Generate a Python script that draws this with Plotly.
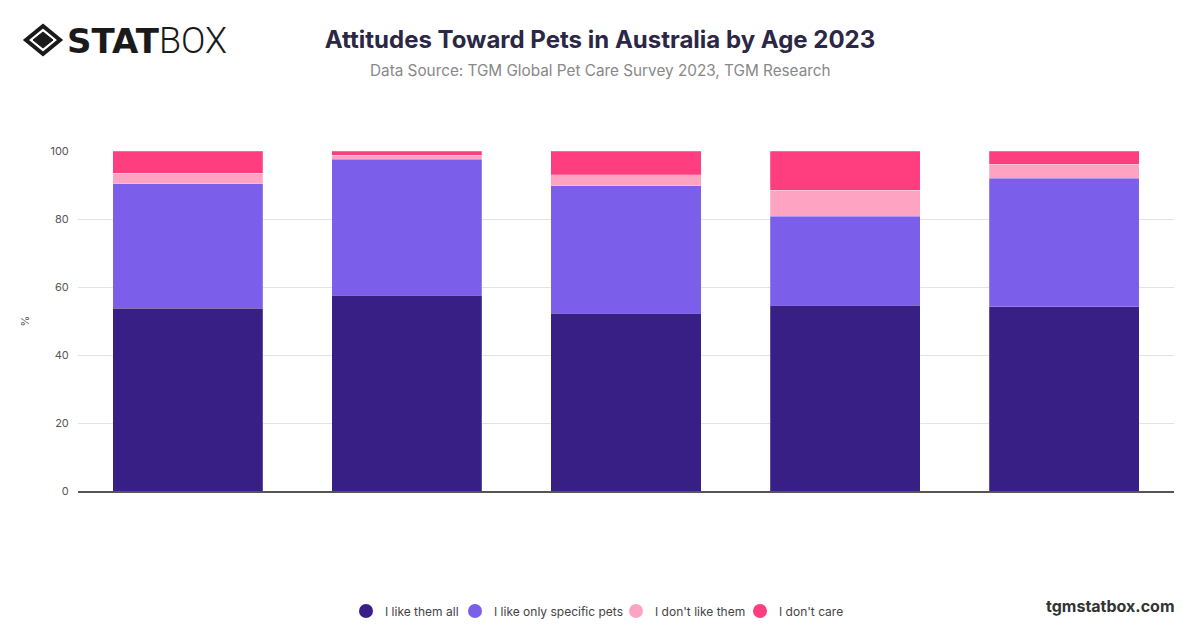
import plotly.graph_objects as go

# age groups (no labels shown on the reference axis)
ages = ["18-24", "25-34", "35-44", "45-54", "55+"]

like_all = [53.7, 57.6, 52.3, 54.6, 54.2]
like_specific = [36.6, 40.0, 37.5, 26.2, 37.8]
dont_like = [3.1, 1.1, 3.2, 7.7, 4.1]
dont_care = [6.6, 1.3, 7.0, 11.5, 3.9]

series = [
    ("I like them all", like_all, "#371f86"),
    ("I like only specific pets", like_specific, "#7b5eea"),
    ("I don't like them", dont_like, "#ffa3c3"),
    ("I don't care", dont_care, "#ff3e80"),
]

# the page draws the figure 8px in from the corner (body margin)
OFF = 8
W, H = 1200, 628
L, T = 78 - OFF, 151 - OFF
R, B = W - (1174 - OFF), H - (491 - OFF)
PW, PH = W - L - R, H - T - B


def px(x, y):
    # screen pixel position -> paper coordinates
    return (x - OFF - L) / PW, (H - B - (y - OFF)) / PH


fig = go.Figure()
for name, vals, col in series:
    fig.add_trace(go.Bar(x=ages, y=vals, name=name, marker_color=col,
                         marker_line=dict(width=0.6, color="rgba(255,255,255,0.35)"),
                         showlegend=False))

fig.update_layout(
    barmode="stack",
    bargap=0.315,
    width=W, height=H,
    margin=dict(l=L, r=R, t=T, b=B),
    plot_bgcolor="white", paper_bgcolor="white",
    font=dict(family="Inter, Roboto, sans-serif", color="#555"),
    title=dict(text="<b>Attitudes Toward Pets in Australia by Age 2023</b>",
               x=(600 - OFF) / W, xanchor="center", y=1 - (40 - OFF) / H,
               yanchor="middle", font=dict(size=24, color="#2b2744"),
               automargin=False),
    showlegend=False,
)

fig.update_xaxes(showticklabels=False, showline=True, linecolor="#555",
                 linewidth=1.5, showgrid=False, ticks="", automargin=False)
fig.update_yaxes(range=[0, 100], dtick=20, showgrid=True, gridcolor="#e3e3e3",
                 zeroline=False, tickfont=dict(size=11, color="#555"),
                 title=dict(text="%", font=dict(size=11, color="#555"), standoff=18),
                 ticks="outside", ticklen=6, tickcolor="white", automargin=False)

sx, sy = px(600, 71)
fig.add_annotation(text="Data Source: TGM Global Pet Care Survey 2023, TGM Research",
                   xref="paper", yref="paper", x=sx, y=sy, xanchor="center",
                   yanchor="middle", showarrow=False,
                   font=dict(size=15.3, color="#888"))

wx, wy = px(1177, 606)
fig.add_annotation(text="<b>tgmstatbox.com</b>", xref="paper", yref="paper",
                   x=wx, y=wy, xanchor="right", yanchor="middle", showarrow=False,
                   font=dict(size=16, color="#333"))

# legend drawn by hand to match the compact spacing
legend_x = [366, 475, 636, 760]
for (name, vals, col), lx in zip(series, legend_x):
    x0, y0 = px(lx - 7, 618)
    x1, y1 = px(lx + 7, 604)
    fig.add_shape(type="circle", xref="paper", yref="paper", x0=x0, y0=y0,
                  x1=x1, y1=y1, fillcolor=col, line_width=0)
    tx, ty = px(lx + 17, 611)
    fig.add_annotation(text=name, xref="paper", yref="paper", x=tx, y=ty,
                       xanchor="left", yanchor="middle", showarrow=False,
                       font=dict(size=12, color="#444"))

# logo text: heavy STAT, light BOX
ax, ay = px(160, 41)
fig.add_annotation(text="<b>STAT</b>", xref="paper", yref="paper",
                   x=ax, y=ay, xanchor="right", yanchor="middle", showarrow=False,
                   xshift=2,
                   font=dict(size=34, color="#1a1a1a", family="DejaVu Sans"))
fig.add_annotation(text="BOX", xref="paper", yref="paper",
                   x=ax, y=ay, xanchor="left", yanchor="middle", showarrow=False,
                   xshift=-3,
                   font=dict(size=36, color="#1a1a1a", family="Roboto", weight=300))

# logo diamond icon
cx, cy = 43, 40
outer = [px(cx, cy - 14), px(cx + 17, cy), px(cx, cy + 14), px(cx - 17, cy)]
inner = [px(cx, cy - 8), px(cx + 10, cy), px(cx, cy + 8), px(cx - 10, cy)]


def path(pts):
    return "M " + " L ".join(f"{a},{b}" for a, b in pts) + " Z"


fig.add_shape(type="path", path=path(outer), xref="paper", yref="paper",
              line=dict(color="#1a1a1a", width=4), fillcolor="rgba(0,0,0,0)")
fig.add_shape(type="path", path=path(inner), xref="paper", yref="paper",
              line=dict(color="#1a1a1a", width=1), fillcolor="#1a1a1a")

fig.write_html("out.html")
